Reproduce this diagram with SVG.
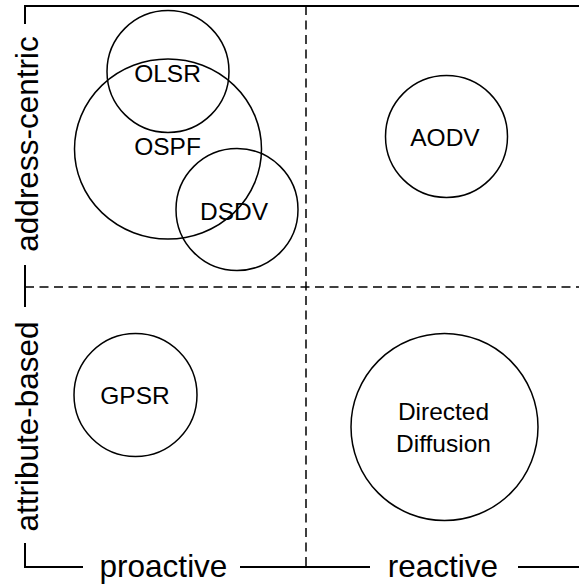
<svg xmlns="http://www.w3.org/2000/svg" width="579" height="588" viewBox="0 0 579 588">
<style>
.frame{stroke:#000;stroke-width:2;fill:none}
.dash{stroke:#000;stroke-width:1.5;fill:none;stroke-dasharray:9 5.5}
.node{stroke:#000;stroke-width:1.5;fill:none}
.lbl{font-family:"Liberation Sans",Arial,Helvetica,sans-serif;font-size:24.5px;text-anchor:middle;fill:#000}
.ax{font-family:"Liberation Sans",Arial,Helvetica,sans-serif;font-size:31.5px;text-anchor:middle;fill:#000}
</style>
<rect width="579" height="588" fill="#fff"/>
<g id="connectors">
<path class="frame" d="M25,24 V6 H579"/>
<path class="frame" d="M25,265 V307"/>
<path class="frame" d="M25,543 V567 H83"/>
<path class="frame" d="M240,567 H370"/>
<path class="frame" d="M518,567 H579"/>
<path class="dash" d="M25,287 H579"/>
<path class="dash" d="M306,6 V567"/>
</g>
<g id="axis-labels">
<text class="ax" x="163.5" y="577">proactive</text>
<text class="ax" x="443" y="577">reactive</text>
<text class="ax" transform="translate(38,144) rotate(-90)">address-centric</text>
<text class="ax" transform="translate(38,426.5) rotate(-90)">attribute-based</text>
</g>
<g id="OSPF">
<ellipse class="node" cx="168" cy="149" rx="93.5" ry="90"/>
<text class="lbl" x="167.5" y="155">OSPF</text>
</g>
<g id="OLSR">
<circle class="node" cx="168" cy="71.5" r="61"/>
<text class="lbl" x="167.5" y="81.7">OLSR</text>
</g>
<g id="DSDV">
<circle class="node" cx="237" cy="209.5" r="61"/>
<text class="lbl" x="234" y="220">DSDV</text>
</g>
<g id="AODV">
<circle class="node" cx="446.5" cy="136.5" r="61"/>
<text class="lbl" x="445" y="146">AODV</text>
</g>
<g id="GPSR">
<circle class="node" cx="135.5" cy="395" r="61.5"/>
<text class="lbl" x="135" y="404">GPSR</text>
</g>
<g id="DirectedDiffusion">
<circle class="node" cx="444.5" cy="427" r="93.5"/>
<text class="lbl" x="443.5" y="420">Directed</text>
<text class="lbl" x="443.5" y="451.7">Diffusion</text>
</g>
</svg>
